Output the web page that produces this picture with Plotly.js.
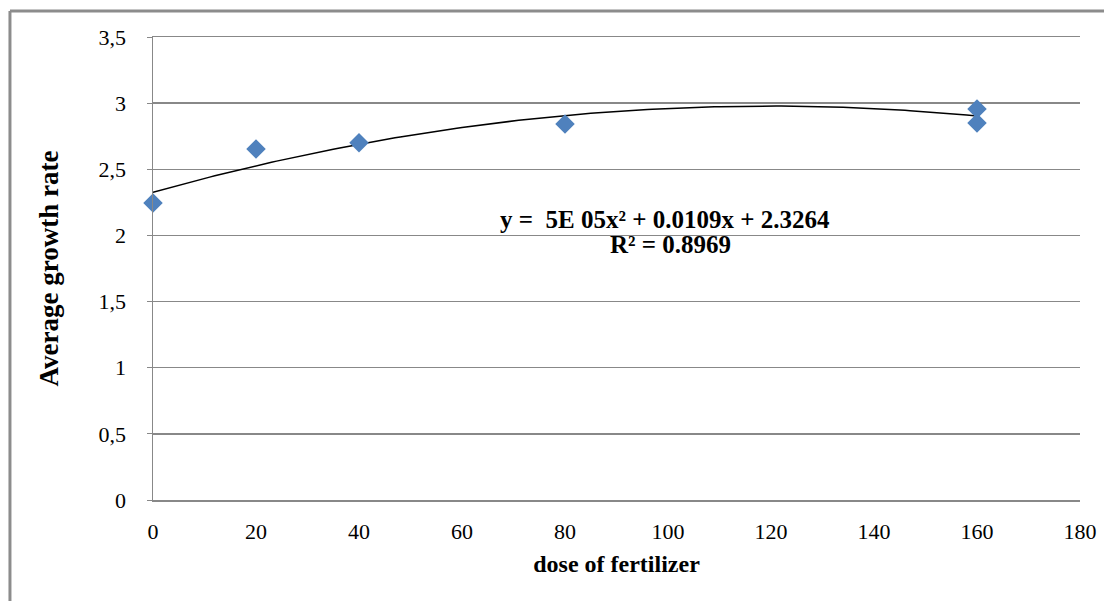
<!DOCTYPE html>
<html>
<head>
<meta charset="utf-8">
<script src="https://cdn.plot.ly/plotly-3.0.1.min.js"></script>
<style>
  html, body { margin: 0; padding: 0; background: #ffffff; }
  #chart { width: 1104px; height: 601px; }
</style>
</head>
<body>
<div id="chart"></div>
<script>
// Data
const doses = [0, 20, 40, 80, 160, 160];
const growthRates = [2.245, 2.653, 2.70, 2.842, 2.956, 2.85];

// Polynomial trendline (order 2) as drawn in the reference: c0 + c1*x + c2*x^2
const trendCoef = [2.3264, 0.0109, -0.0000456];
const trendRange = [0, 160];

// Axis ticks
const xTickVals = [0, 20, 40, 60, 80, 100, 120, 140, 160, 180];
const xTickText = ["0", "20", "40", "60", "80", "100", "120", "140", "160", "180"];
const yTickVals = [0, 0.5, 1, 1.5, 2, 2.5, 3, 3.5];
const yTickText = ["0", "0,5", "1", "1,5", "2", "2,5", "3", "3,5"];

const equationText = "y =  5E 05x\u00B2 + 0.0109x + 2.3264";
const r2Text = "R\u00B2 = 0.8969";

// sample the trendline across its range
const trendX = [];
const trendY = [];
for (let i = 0; i <= 160; i++) {
  const x = trendRange[0] + (trendRange[1] - trendRange[0]) * i / 160;
  trendX.push(x);
  trendY.push(trendCoef[0] + trendCoef[1] * x + trendCoef[2] * x * x);
}

const serif = "Liberation Serif, Times New Roman, serif";

const traces = [
  {
    x: trendX, y: trendY, type: "scatter", mode: "lines",
    line: { color: "#000000", width: 1.5 },
    hoverinfo: "skip", showlegend: false, cliponaxis: false
  },
  {
    x: doses, y: growthRates, type: "scatter", mode: "markers",
    marker: { symbol: "diamond", size: 15, color: "#4F81BD", line: { width: 0 } },
    showlegend: false, cliponaxis: false
  }
];

const layout = {
  width: 1104, height: 601,
  margin: { l: 153, r: 24, t: 37, b: 101 },
  paper_bgcolor: "#ffffff", plot_bgcolor: "#ffffff",
  showlegend: false,
  font: { family: serif, color: "#000000", size: 20 },
  xaxis: {
    range: [0, 180],
    tickvals: xTickVals, ticktext: xTickText,
    showgrid: false, zeroline: false,
    showline: true, mirror: true, linecolor: "#888888", linewidth: 1.5,
    ticks: "", ticklabelstandoff: 11,
    tickfont: { family: serif, size: 22, color: "#000000" },
    title: { text: "<b>dose of fertilizer</b>", font: { family: serif, size: 24, color: "#000000" }, standoff: 12 }
  },
  yaxis: {
    range: [0, 3.5],
    tickvals: yTickVals, ticktext: yTickText,
    showgrid: true, gridcolor: "#888888", gridwidth: 1.5,
    zeroline: false,
    showline: true, linecolor: "#888888", linewidth: 1.5,
    ticks: "outside", ticklen: 5, tickcolor: "#888888", ticklabelstandoff: 16,
    tickfont: { family: serif, size: 22, color: "#000000" },
    title: { text: "<b>Average growth rate</b>", font: { family: serif, size: 27, color: "#000000" }, standoff: 32 }
  },
  shapes: [
    { type: "line", xref: "paper", yref: "paper", x0: -0.1543, x1: 1.03, y0: 1.0562, y1: 1.0562,
      line: { color: "#8c8c8c", width: 3 } },
    { type: "line", xref: "paper", yref: "paper", x0: -0.1543, x1: -0.1543, y0: 1.0562, y1: -0.25,
      line: { color: "#8c8c8c", width: 3 } }
  ],
  annotations: [
    { x: 99.4, y: 2.117, xref: "x", yref: "y", text: "<b>" + equationText + "</b>", showarrow: false,
      font: { family: serif, size: 25, color: "#000000" } },
    { x: 100.4, y: 1.935, xref: "x", yref: "y", text: "<b>" + r2Text + "</b>", showarrow: false,
      font: { family: serif, size: 25, color: "#000000" } }
  ]
};

Plotly.newPlot("chart", traces, layout, { displayModeBar: false, staticPlot: true });
</script>
</body>
</html>
